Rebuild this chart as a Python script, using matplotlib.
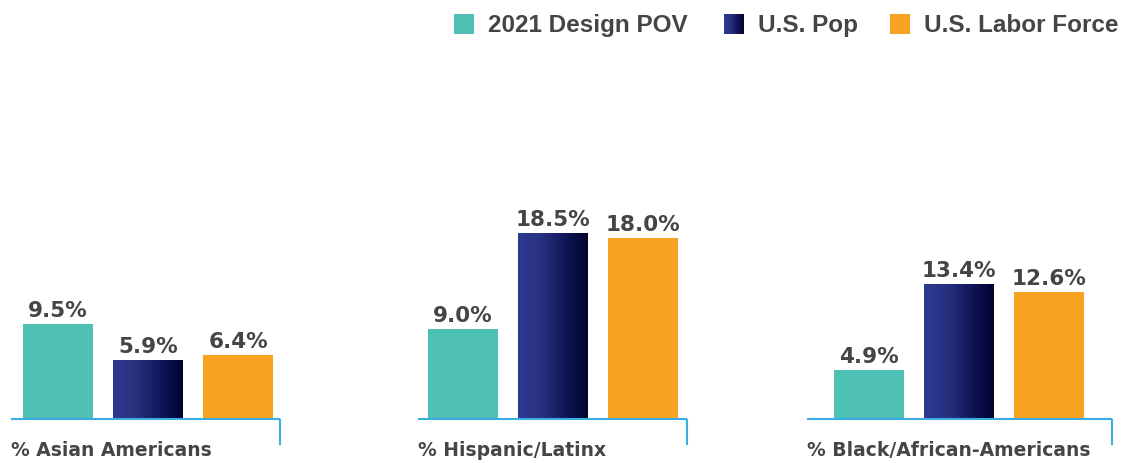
import matplotlib.pyplot as plt
import numpy as np
from matplotlib.colors import LinearSegmentedColormap

# datos
categorias = ['% Asian Americans', '% Hispanic/Latinx', '% Black/African-Americans']
series = ['2021 Design POV', 'U.S. Pop', 'U.S. Labor Force']
design_pov = [9.5, 9.0, 4.9]
us_pop = [5.9, 18.5, 13.4]
labor_force = [6.4, 18.0, 12.6]
valores = [design_pov, us_pop, labor_force]

teal = '#4fc0b4'
orange = '#f8a221'
texto = '#454545'
linea = '#3aaee2'
navy_cmap = LinearSegmentedColormap.from_list(
    'navy', ['#2e3a92', '#27317f', '#10175a', '#02032f'])

W, H = 1129, 463
base_px = 419      # linea base en pixeles
k = 10.05          # pixeles por punto porcentual


def y_de_px(py):
    return (base_px - py) / k


fig = plt.figure(figsize=(W / 100, H / 100), dpi=100)
fig.patch.set_facecolor('white')
ax = fig.add_axes([0, 0, 1, 1])
ax.axis('off')

inicio_grupo = [23, 428, 834]
ancho = 70
paso = 90
linea_izq = [11, 418, 807]
linea_der = [280, 687, 1112]
colores = [teal, None, orange]

for g, cat in enumerate(categorias):
    for s in range(3):
        x0 = inicio_grupo[g] + s * paso
        v = valores[s][g]
        if s == 1:
            barra = ax.bar(x0, v, width=ancho, align='edge', color='#27317f', linewidth=0)[0]
            grad = np.linspace(0, 1, 256).reshape(1, -1)
            im = ax.imshow(grad, cmap=navy_cmap, extent=(x0, x0 + ancho, 0, v),
                           aspect='auto', zorder=barra.get_zorder() + 0.1)
            im.set_clip_path(barra)
        else:
            ax.bar(x0, v, width=ancho, align='edge', color=colores[s], linewidth=0)
        ax.text(x0 + ancho / 2, v + 7 / k, f'{v:.1f}%', ha='center', va='baseline',
                fontsize=15.5, fontweight='bold', color=texto, family='DejaVu Sans')
    # linea base y marca
    ax.plot([linea_izq[g], linea_der[g]], [0, 0], color=linea, lw=1.5,
            solid_capstyle='butt', zorder=5)
    ax.plot([linea_der[g], linea_der[g]], [0, y_de_px(445)], color=linea, lw=1.5,
            solid_capstyle='butt', zorder=5)
    ax.text(linea_izq[g], y_de_px(456), cat, ha='left', va='baseline',
            fontsize=13.5, fontweight='bold', color=texto, family='DejaVu Sans')

# leyenda manual
ley_x = [454, 724, 890]
col_ley = [teal, None, orange]
lado = 20
for i, nombre in enumerate(series):
    x0 = ley_x[i]
    y_top, y_bot = y_de_px(14), y_de_px(14 + lado)
    if i == 1:
        grad = np.linspace(0, 1, 64).reshape(1, -1)
        ax.imshow(grad, cmap=navy_cmap, extent=(x0, x0 + lado, y_bot, y_top),
                  aspect='auto')
    else:
        ax.add_patch(plt.Rectangle((x0, y_bot), lado, y_top - y_bot,
                                   color=col_ley[i], lw=0))
    ax.text(x0 + 34, y_de_px(32), nombre, ha='left', va='baseline',
            fontsize=17.5, fontweight='bold', color=texto, family='Liberation Sans')

ax.set_xlim(0, W)
ax.set_ylim(y_de_px(H), y_de_px(0))
fig.savefig('out.png', dpi=100)
